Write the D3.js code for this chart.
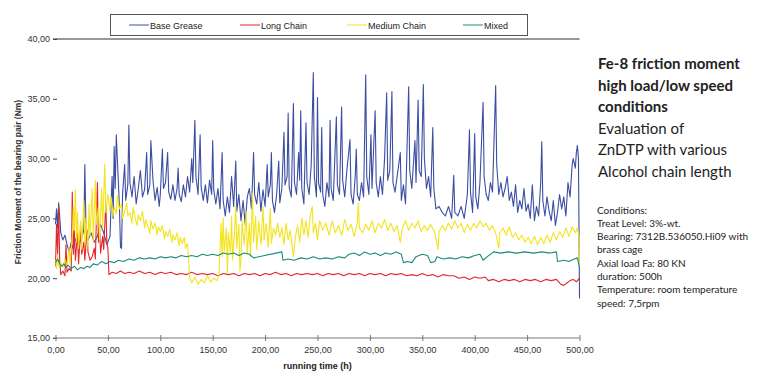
<!DOCTYPE html>
<html>
<head>
<meta charset="utf-8">
<style>
    body { margin: 0; background: #fff; }
    svg { display: block; font-family: 'Liberation Sans', Arial, sans-serif; }
    .tick text { fill: #333; font-size: 9px; }
    .side { font-family: Lato, 'Open Sans', sans-serif; fill: #222; }
</style>
</head>
<body>
<svg width="765" height="378"></svg>

<script src="https://d3js.org/d3.v7.min.js"></script>
<script>

// ---- data (time in h, friction moment in Nm) ----
const xTicks = [0, 50, 100, 150, 200, 250, 300, 350, 400, 450, 500]
const yTicks = [15, 20, 25, 30, 35, 40]
const seriesNames = ["Base Grease", "Long Chain", "Medium Chain", "Mixed"]
const seriesColors = ["#3b4ea2", "#e2262c", "#f3e41e", "#1b8a7e"]

const baseGrease = [
    [0,24.5],[1,25.8],[2,24.2],[3,26.3],[4,25.2],[5,23.8],[7,23.2],[9,23.6],[11,22.8],[13,22.2],
    [15,23.0],[17,22.4],[19,23.2],[21,23.5],[23,23.0],[25,23.4],[27,24.0],[28,29.5],[29,24.5],[31,23.2],
    [34,23.8],[37,23.0],[40,23.5],[43,24.5],[46,23.8],[49,22.8],[52,23.5],[54,28.5],[55,25.0],[56,31.0],
    [57,27.5],[58,32.0],[59,30.0],[61,26.0],[62,22.6],[63,22.5],[64,27.0],[66,29.5],[67,26.5],[69,27.8],
    [70,32.8],[71,28.0],[73,26.8],[75,28.5],[77,26.2],[79,27.5],[81,29.0],[83,26.8],[85,27.4],[87,30.5],
    [88,27.0],[90,27.8],[91,31.5],[93,28.2],[95,26.5],[97,27.6],[99,26.0],[100,27.0],[102,30.8],[103,27.5],
    [105,28.0],[107,30.5],[108,27.2],[110,26.6],[112,27.8],[114,26.5],[116,27.5],[117,29.2],[118,27.0],[120,26.4],
    [122,27.8],[124,26.8],[126,28.5],[128,27.2],[130,30.0],[131,28.0],[133,33.2],[134,28.5],[136,27.0],[138,32.0],
    [139,27.6],[141,26.5],[143,27.8],[145,26.3],[147,28.2],[149,27.0],[150,31.5],[151,27.4],[153,26.2],[155,27.5],
    [157,25.8],[159,30.5],[160,26.5],[162,25.2],[164,26.8],[166,25.5],[168,28.5],[170,26.0],[172,29.8],[173,25.6],
    [175,27.0],[177,24.8],[179,26.5],[181,24.5],[183,26.8],[185,27.5],[187,25.8],[189,30.5],[190,27.0],[192,26.2],
    [194,28.0],[196,25.6],[198,27.4],[200,26.0],[202,29.5],[203,26.8],[205,27.8],[206,30.5],[207,26.5],[209,25.5],
    [211,27.0],[213,29.8],[214,26.3],[216,27.5],[218,32.2],[219,27.8],[221,28.5],[222,33.8],[223,27.6],[225,26.8],
    [227,34.6],[228,28.0],[230,27.0],[232,30.5],[233,28.2],[234,34.0],[235,27.5],[237,26.2],[239,33.0],[240,28.0],
    [242,27.0],[244,29.5],[246,37.2],[247,28.5],[249,26.8],[250,35.1],[251,28.0],[253,27.2],[254,32.6],[255,27.0],
    [257,26.0],[259,28.0],[261,26.8],[262,33.2],[263,27.5],[265,26.5],[268,33.5],[269,27.8],[271,27.0],[273,34.3],
    [274,28.2],[276,26.8],[278,29.0],[281,31.6],[282,27.0],[284,26.2],[286,28.5],[287,30.8],[288,27.0],[290,26.5],
    [292,28.0],[294,26.8],[296,37.0],[297,28.5],[299,27.0],[301,32.0],[302,27.5],[305,34.0],[306,28.0],[308,26.8],
    [310,28.5],[312,27.0],[314,30.0],[316,35.5],[317,28.2],[319,29.0],[321,35.6],[322,28.0],[324,27.2],[326,28.5],
    [329,30.5],[330,26.5],[332,27.8],[334,26.2],[337,36.0],[338,29.0],[340,27.5],[343,31.5],[344,28.0],[346,34.9],
    [347,29.0],[349,28.5],[351,36.2],[352,30.0],[354,27.5],[356,28.5],[358,26.8],[360,32.6],[361,27.5],[363,25.8],
    [366,26.0],[369,25.5],[372,25.2],[375,26.0],[378,25.0],[380,28.6],[381,25.5],[384,25.2],[387,26.0],[390,25.0],
    [393,27.0],[395,32.4],[396,27.2],[398,25.5],[400,32.1],[401,26.8],[403,25.8],[405,28.0],[408,34.7],[409,28.5],
    [411,27.0],[413,26.5],[415,28.0],[417,27.2],[420,36.1],[421,29.5],[423,27.0],[425,28.0],[427,26.8],[429,27.5],
    [431,28.5],[433,26.5],[435,27.2],[437,26.0],[439,27.8],[441,25.5],[443,26.5],[445,25.8],[447,27.5],[449,25.6],
    [451,26.2],[453,25.0],[455,27.8],[457,24.8],[459,26.0],[461,25.2],[463,28.0],[464,31.4],[465,26.5],[467,25.2],
    [469,26.8],[471,25.6],[473,24.8],[475,26.5],[477,24.4],[479,25.5],[481,27.0],[483,25.8],[485,26.8],[487,25.2],
    [489,28.0],[491,26.8],[493,29.5],[494,30.0],[496,29.2],[497,30.5],[498,31.1],[499,30.0],[499.5,24.5],[500,18.3]
]

const longChain = [
    [0,21.0],[1,24.5],[2,22.0],[3,26.0],[4,21.5],[5,20.3],[7,20.6],[9,20.2],[10,22.8],[11,20.5],
    [13,20.8],[15,20.6],[16,27.2],[17,22.0],[18,24.0],[19,21.5],[21,23.8],[22,21.2],[24,24.3],[25,22.0],
    [27,23.0],[28,21.5],[30,24.0],[31,22.2],[33,21.5],[35,21.8],[37,22.5],[38,21.6],[40,28.0],[41,23.0],
    [42,24.3],[43,22.1],[45,23.5],[46,22.4],[48,26.3],[49,23.0],[50,22.5],[51,20.3],[54,20.5],[58,20.4],
    [62,20.6],[66,20.4],[70,20.5],[75,20.4],[80,20.6],[85,20.4],[90,20.5],[95,20.3],[100,20.5],[105,20.4],
    [110,20.5],[115,20.3],[120,20.4],[125,20.3],[130,20.5],[135,20.3],[140,20.4],[145,20.3],[150,20.4],[155,20.2],
    [160,20.4],[165,20.3],[170,20.4],[175,20.2],[180,20.4],[185,20.3],[190,20.4],[195,20.2],[200,20.4],[205,20.3],
    [210,20.5],[215,20.3],[220,20.4],[225,20.2],[230,20.4],[235,20.3],[240,20.4],[245,20.3],[250,20.4],[255,20.2],
    [260,20.4],[265,20.3],[270,20.4],[275,20.2],[280,20.4],[285,20.3],[290,20.4],[295,20.2],[300,20.4],[305,20.3],
    [310,20.4],[315,20.2],[320,20.4],[325,20.3],[330,20.4],[335,20.2],[340,20.3],[345,20.2],[350,20.4],[355,20.2],
    [360,20.3],[365,20.1],[370,20.3],[375,20.2],[380,20.2],[385,20.0],[390,20.1],[395,19.9],[400,20.1],[405,20.0],
    [410,20.1],[413,19.8],[418,19.9],[423,19.7],[428,19.9],[433,19.8],[438,19.9],[443,19.7],[448,19.9],[453,19.8],
    [458,19.9],[463,19.7],[468,19.9],[473,19.8],[478,19.9],[482,19.5],[485,19.4],[488,19.6],[491,19.8],[494,19.9],
    [497,19.7],[499,19.9],[500,20.0]
]

const mediumChain = [
    [0,21.5],[1,20.8],[2,22.0],[3,21.0],[5,21.3],[7,20.9],[9,21.6],[11,21.0],[13,22.5],[14,21.2],
    [16,23.5],[17,26.0],[18,24.0],[19,27.4],[20,23.0],[21,25.5],[22,22.5],[24,24.8],[25,22.4],[27,26.5],
    [28,23.0],[29,25.0],[31,22.5],[32,26.2],[33,23.5],[35,27.5],[36,23.0],[38,28.2],[39,24.5],[41,26.0],
    [42,23.2],[44,27.5],[45,24.2],[47,29.5],[48,25.5],[50,27.0],[52,25.6],[53,26.8],[55,25.2],[56,26.0],
    [58,25.4],[59,26.9],[61,25.8],[63,26.2],[64,25.0],[66,25.6],[68,26.3],[69,25.2],[71,25.5],[73,24.6],
    [74,25.9],[76,25.0],[78,24.4],[79,25.3],[81,24.8],[83,25.6],[85,24.2],[86,24.9],[88,24.4],[90,23.7],
    [91,24.8],[93,24.1],[95,24.6],[97,23.6],[98,24.3],[100,23.9],[102,24.4],[104,23.3],[105,23.9],[107,23.5],
    [109,24.1],[111,23.0],[112,23.6],[114,23.2],[116,23.8],[118,22.7],[119,23.4],[121,22.9],[123,23.4],[124,22.5],
    [126,22.9],[127,21.5],[128,20.0],[130,19.6],[133,20.1],[136,19.5],[139,19.9],
    [142,19.6],[145,20.2],[148,19.7],[151,20.0],[154,19.8],[156,20.3],[157,22.5],[158,24.6],[159,21.8],[160,25.0],
    [161,22.2],[163,24.2],[164,20.4],[165,23.8],[167,22.0],[168,25.2],[169,21.5],[171,24.0],[172,26.0],[173,22.5],
    [175,24.5],[176,20.6],[177,21.5],[178,24.8],[180,22.8],[182,25.6],[183,22.0],[185,24.6],[186,21.8],[188,27.1],
    [189,23.0],[191,25.2],[192,22.4],[194,24.8],[196,22.8],[198,26.0],[199,23.2],[201,24.6],[203,22.6],[205,25.8],
    [206,22.9],[208,24.2],[210,23.6],[212,24.6],[214,23.4],[216,24.2],[218,22.8],[220,24.6],[222,23.2],[224,24.0],
    [226,22.6],[227,21.8],[229,23.5],[231,24.4],[233,23.0],[235,25.0],[237,23.6],[239,24.8],[241,23.4],[243,25.2],
    [245,26.0],[246,23.8],[248,24.6],[250,23.2],[252,24.8],[255,24.0],[258,24.6],[261,23.6],[264,24.8],[267,23.8],
    [270,24.4],[273,23.6],[276,24.9],[279,24.0],[282,24.5],[285,23.5],[288,24.6],[289,26.3],[290,24.2],[293,23.8],
    [296,24.5],[299,24.0],[302,24.8],[305,23.8],[308,24.6],[311,24.2],[314,24.9],[317,24.0],[320,24.6],[323,23.9],
    [326,24.4],[329,23.0],[331,24.2],[334,24.8],[337,24.0],[340,24.6],[343,24.2],[346,24.8],[349,23.9],[352,24.4],
    [355,24.0],[358,24.5],[362,23.8],[365,22.4],[366,23.9],[369,24.4],[372,24.0],[375,24.6],[378,24.1],[381,24.8],
    [384,24.2],[387,24.6],[390,23.8],[393,24.5],[396,24.0],[399,24.6],[402,24.2],[405,24.8],[408,24.3],[411,24.6],
    [414,24.0],[417,24.4],[420,23.8],[423,22.5],[424,23.8],[427,24.2],[430,23.6],[433,24.3],[436,23.4],[439,23.8],
    [442,23.2],[445,23.6],[448,23.0],[451,23.4],[454,22.9],[457,23.5],[460,22.8],[463,23.4],[466,22.9],[469,23.6],
    [472,23.0],[475,23.8],[478,23.2],[481,23.9],[484,23.4],[487,24.2],[490,23.5],[493,24.3],[496,23.8],[498,24.2],
    [499.5,23.5],[500,21.0]
]

const mixed = [
    [0,21.3],[2,21.6],[4,21.2],[6,21.0],[8,21.2],[10,20.9],[12,21.1],[15,20.8],[18,21.0],[21,20.7],
    [24,20.9],[27,20.8],[30,21.0],[33,20.9],[36,21.2],[40,21.1],[44,21.4],[48,21.2],[52,21.4],[56,21.3],
    [60,21.5],[65,21.4],[70,21.6],[75,21.5],[80,21.7],[85,21.6],[90,21.7],[95,21.6],[100,21.8],[105,21.7],
    [110,21.8],[115,21.7],[120,21.9],[125,21.8],[130,21.9],[135,21.8],[140,22.0],[145,21.9],[150,22.0],[155,21.9],
    [160,22.1],[165,22.0],[170,22.1],[175,21.9],[180,22.1],[185,22.0],[189,21.7],[216,22.2],[217,21.5],[222,21.6],
    [228,21.5],[234,21.7],[240,21.6],[246,21.8],[252,21.6],[258,21.7],[264,21.6],[270,21.8],[276,21.7],[280,22.0],
    [285,22.1],[290,21.9],[295,22.2],[300,22.0],[305,22.1],[310,21.9],[315,22.1],[320,22.0],[325,22.2],[330,22.0],
    [332,21.3],[336,21.4],[340,21.3],[344,21.8],[350,22.0],[355,21.9],[358,21.3],[362,21.4],[364,21.8],[370,21.6],
    [376,21.7],[382,21.6],[388,21.8],[394,21.7],[400,21.9],[405,22.0],[408,21.5],[412,21.8],[418,22.2],[425,22.1],
    [432,22.2],[440,22.1],[448,22.2],[456,22.1],[464,22.2],[472,22.1],[478,22.2],[479,21.4],[485,21.5],[490,21.4],
    [495,21.6],[498,21.7],[500,20.9]
]

const titleLines = ["Fe-8 friction moment", "high load/low speed", "conditions"]
const subtitleLines = ["Evaluation of", "ZnDTP with various", "Alcohol chain length"]
const conditionLines = [
    "Conditions:", "Treat Level: 3%-wt.", "Bearing: 7312B.536050.Hi09 with", "brass cage",
    "Axial load Fa: 80 KN", "duration: 500h", "Temperature: room temperature", "speed: 7,5rpm"
]

// ---- chart ----
let svg = d3.select("svg")

let x = d3.scaleLinear().domain([0, 500]).range([55.5, 579.5])
let y = d3.scaleLinear().domain([15, 40]).range([338, 39])
let fmt = d => d3.format(".2f")(d).replace(".", ",")

// top frame line (the 40,00 level)
svg.append("line")
    .attr("x1", 53).attr("x2", x(500))
    .attr("y1", y(40)).attr("y2", y(40))
    .style("stroke", "#333")
    .style("stroke-width", 1.2)

// y axis: labels + short dashes, no vertical line
let yAxis = svg.append("g")
    .attr("transform", "translate(57,0)")
    .call(d3.axisLeft(y).tickValues(yTicks).tickFormat(fmt).tickSize(4).tickPadding(3))
yAxis.select(".domain").remove()
yAxis.selectAll(".tick line").style("stroke", "#444")

// x axis: ticks cross the line
let xAxis = svg.append("g")
    .attr("transform", `translate(0,${y(15)})`)
    .call(d3.axisBottom(x).tickValues(xTicks).tickFormat(fmt).tickSize(3).tickSizeOuter(0).tickPadding(6))
xAxis.select(".domain").attr("d", `M53,0H${x(500)}`).style("stroke", "#777")
xAxis.selectAll(".tick line").attr("y1", -3).style("stroke", "#777")

// axis titles
svg.append("text")
    .attr("x", x(250)).attr("y", 369)
    .attr("text-anchor", "middle")
    .style("font-size", "9px").style("font-weight", "bold").style("fill", "#222")
    .text("running time (h)")

svg.append("text")
    .attr("transform", "translate(21,182) rotate(-90)")
    .attr("text-anchor", "middle")
    .style("font-size", "8.5px").style("font-weight", "bold").style("fill", "#333")
    .text("Friction Moment of the bearing pair (Nm)")

// series lines
let line = d3.line().x(d => x(d[0])).y(d => y(d[1]))
let allSeries = [baseGrease, longChain, mediumChain, mixed]

svg.append("g")
    .selectAll("path")
    .data(allSeries)
    .join("path")
    .attr("d", line)
    .style("fill", "none")
    .style("stroke", (d, i) => seriesColors[i])
    .style("stroke-width", 1.1)
    .style("stroke-linejoin", "round")

// legend box
let legendX = [129, 240, 347, 463]
let legend = svg.append("g")
legend.append("rect")
    .attr("x", 110.5).attr("y", 14.5)
    .attr("width", 417).attr("height", 21)
    .style("fill", "white")
    .style("stroke", "#555")

let items = legend.selectAll(".item")
    .data(seriesNames)
    .join("g")
    .attr("class", "item")
    .attr("transform", (d, i) => `translate(${legendX[i]},25)`)
items.append("line")
    .attr("x1", 0).attr("x2", 20)
    .style("stroke", (d, i) => seriesColors[i])
    .style("stroke-width", 1)
items.append("text")
    .attr("x", 21).attr("y", 3.5)
    .style("font-size", "9px").style("fill", "#222")
    .text(d => d)

// right hand notes
let side = svg.append("g").attr("class", "side")
side.selectAll(".t1")
    .data(titleLines)
    .join("text")
    .attr("x", 598).attr("y", (d, i) => 69 + i * 21.5)
    .style("font-size", "15px").style("font-weight", "bold")
    .text(d => d)
side.selectAll(".t2")
    .data(subtitleLines)
    .join("text")
    .attr("x", 598).attr("y", (d, i) => 133.5 + i * 21.5)
    .style("font-size", "15px")
    .text(d => d)
side.selectAll(".t3")
    .data(conditionLines)
    .join("text")
    .attr("x", 597).attr("y", (d, i) => 213.5 + i * 13.3)
    .style("font-size", "10px")
    .text(d => d)

</script>
</body>
</html>
